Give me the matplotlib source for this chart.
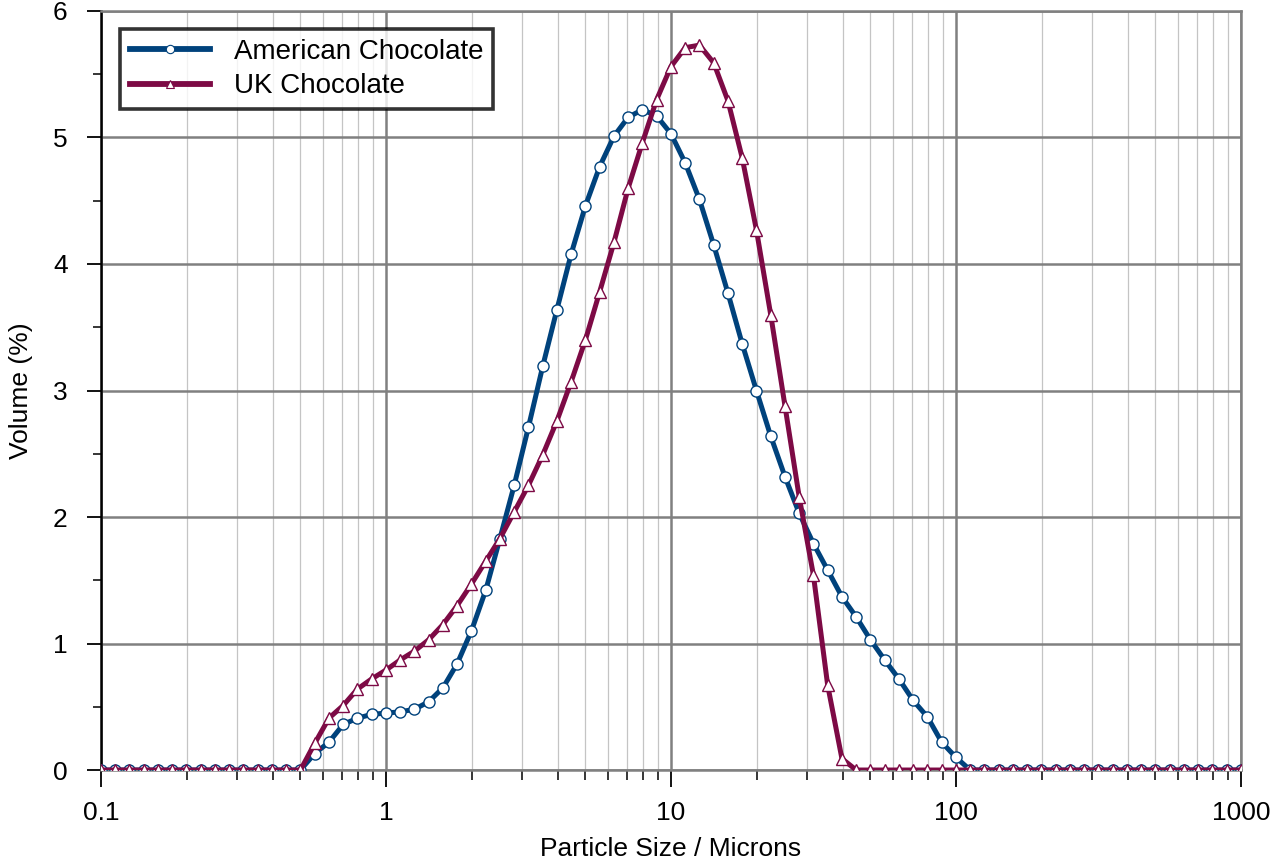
import matplotlib
matplotlib.use("Agg")
import matplotlib.pyplot as plt
from matplotlib.ticker import FixedLocator, FuncFormatter, NullFormatter, MultipleLocator
from matplotlib.lines import Line2D

plt.rcParams['font.family'] = ['Liberation Sans', 'DejaVu Sans']

# size classes: 20 per decade, 0.1 to 1000 microns
mantissa = [1.000, 1.122, 1.259, 1.413, 1.585, 1.778, 1.995, 2.239, 2.512, 2.818,
            3.162, 3.548, 3.981, 4.467, 5.012, 5.623, 6.310, 7.079, 7.943, 8.913]
decades = [0.1, 1, 10, 100]
sizes = [m * d for d in decades for m in mantissa] + [1000.0]

american = [0] * 15 + [
    0.13, 0.22, 0.36, 0.41, 0.44, 0.45, 0.46, 0.48, 0.54, 0.65,
    0.84, 1.10, 1.42, 1.83, 2.25, 2.71, 3.19, 3.64, 4.08, 4.46,
    4.77, 5.01, 5.16, 5.22, 5.17, 5.03, 4.80, 4.51, 4.15, 3.77,
    3.37, 3.00, 2.64, 2.32, 2.03, 1.79, 1.58, 1.37, 1.21, 1.03,
    0.87, 0.72, 0.55, 0.42, 0.22, 0.10] + [0] * 20

uk = [0] * 15 + [
    0.21, 0.41, 0.51, 0.64, 0.72, 0.79, 0.87, 0.94, 1.03, 1.15,
    1.30, 1.47, 1.65, 1.83, 2.04, 2.25, 2.49, 2.76, 3.07, 3.40,
    3.78, 4.17, 4.60, 4.96, 5.30, 5.56, 5.71, 5.73, 5.59, 5.29,
    4.84, 4.27, 3.60, 2.88, 2.16, 1.54, 0.67, 0.09] + [0] * 28

blue = "#00427c"
maroon = "#7d0a45"

fig = plt.figure(figsize=(12.73, 8.65), dpi=100)
ax = fig.add_axes([0.0793, 0.1098, 0.8955, 0.8775])

ax.plot(sizes, american, color=blue, lw=3.6, marker='o', ms=8, mfc='white',
        mec=blue, mew=1.0, zorder=3)
ax.plot(sizes, uk, color=maroon, lw=3.6, marker='^', ms=8.5, mfc='white',
        mec=maroon, mew=1.0, zorder=4)

ax.set_xscale('log')
ax.set_xlim(0.1, 1000)
ax.set_ylim(0, 6)

ax.xaxis.set_major_locator(FixedLocator([0.1, 1, 10, 100, 1000]))
ax.xaxis.set_major_formatter(FuncFormatter(lambda v, p: f"{v:g}"))
minor_x = [m * d for d in decades for m in range(2, 10)]
ax.xaxis.set_minor_locator(FixedLocator(minor_x))
ax.xaxis.set_minor_formatter(NullFormatter())
ax.yaxis.set_major_locator(MultipleLocator(1))
ax.yaxis.set_minor_locator(MultipleLocator(0.5))

ax.grid(which='major', axis='both', color='#808080', lw=1.8, zorder=1)
ax.grid(which='minor', axis='x', color='#c4c4c4', lw=0.9, zorder=0)
ax.set_axisbelow(True)

for side in ['top', 'right', 'bottom']:
    ax.spines[side].set_color('#808080')
    ax.spines[side].set_linewidth(1.8)
ax.spines['left'].set_color('black')
ax.spines['left'].set_linewidth(1.8)

ax.tick_params(axis='x', which='major', length=12, width=1.3, pad=10, labelsize=19)
ax.tick_params(axis='x', which='minor', length=7, width=1.1)
ax.tick_params(axis='y', which='major', length=10, width=1.3, pad=14, labelsize=19)
ax.tick_params(axis='y', which='minor', length=6, width=1.1)

ax.set_xlabel("Particle Size / Microns", fontsize=19, labelpad=9)
ax.set_ylabel("Volume (%)", fontsize=19, labelpad=14)

handles = [
    Line2D([], [], color=blue, lw=4.2, marker='o', ms=6, mfc='white', mec=blue, mew=0.8),
    Line2D([], [], color=maroon, lw=4.2, marker='^', ms=6, mfc='white', mec=maroon, mew=0.8),
]
leg = ax.legend(handles, ["American Chocolate", "UK Chocolate"], loc='upper left',
                bbox_to_anchor=(0.0167, 0.976), borderaxespad=0, fontsize=20,
                frameon=True, fancybox=False, handlelength=2.9, handletextpad=0.85,
                borderpad=0.35, labelspacing=0.3, markerscale=1.0)
leg.get_frame().set_edgecolor('black')
leg.get_frame().set_linewidth(2.6)
leg.set_zorder(5)

fig.savefig("out.png", dpi=100)
